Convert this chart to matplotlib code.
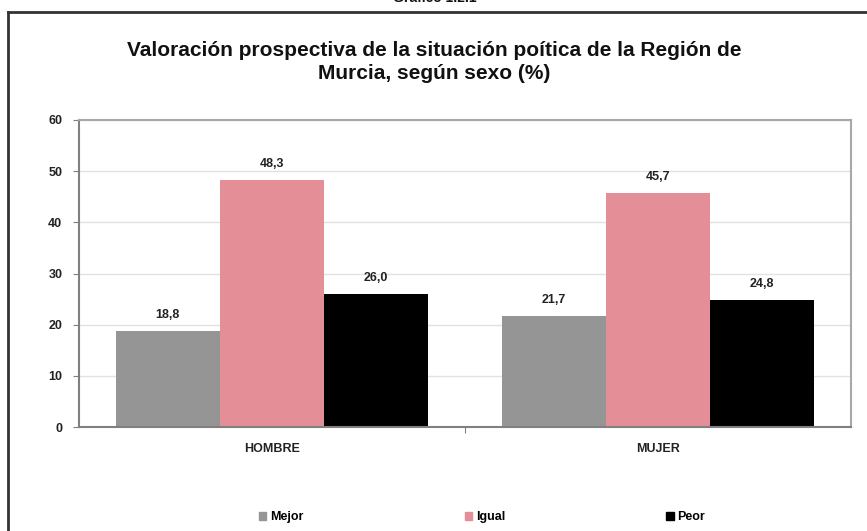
import matplotlib

matplotlib.use("Agg")
import matplotlib.pyplot as plt
import numpy as np
from matplotlib.lines import Line2D
from matplotlib.patches import Patch

plt.rcParams["font.family"] = ["Liberation Sans", "DejaVu Sans"]
plt.rcParams["font.weight"] = "bold"

caption = "Gráfico 1.2.1"
title = "Valoración prospectiva de la situación poítica de la Región de\nMurcia, según sexo (%)"
groups = ["HOMBRE", "MUJER"]
series = ["Mejor", "Igual", "Peor"]
mejor = [18.8, 21.7]
igual = [48.3, 45.7]
peor = [26.0, 24.8]
yticks = [0, 10, 20, 30, 40, 50, 60]

colors = ["#959595", "#e48e97", "#000000"]

fig = plt.figure(figsize=(8.67, 5.31), dpi=100)
ax = fig.add_axes([79 / 867, 1 - 427 / 531, (851 - 79) / 867, (427 - 120) / 531])

x = np.arange(len(groups))
width = 0.27
for i, (name, vals) in enumerate(zip(series, [mejor, igual, peor])):
    pos = x + (i - 1) * width
    ax.bar(pos, vals, width, color=colors[i], label=name, zorder=2)
    for px, v in zip(pos, vals):
        ax.text(px, v + 2.0, f"{v:.1f}".replace(".", ","), ha="center", va="bottom",
                fontsize=9, fontweight="bold", color="#222222")

ax.set_xlim(-0.5, 1.5)
ax.set_ylim(0, 60)
ax.set_yticks(yticks)
ax.set_yticklabels([str(t) for t in yticks], fontsize=9, fontweight="bold", color="#222222")
ax.set_xticks([0.5])
ax.set_xticklabels([""])
ax.tick_params(axis="x", length=4, color="#808080", direction="out")
ax.tick_params(axis="y", length=4, color="#808080", direction="out", pad=8)
for gx, g in zip(x, groups):
    ax.text(gx, -3.2, g, ha="center", va="top", fontsize=9, fontweight="bold", color="#222222")

ax.yaxis.grid(True, color="#e2e2e2", linewidth=1.0, zorder=0)
ax.set_axisbelow(True)
for side in ["top", "right"]:
    ax.spines[side].set_color("#a8a8a8")
    ax.spines[side].set_linewidth(1.5)
for side in ["left", "bottom"]:
    ax.spines[side].set_color("#808080")
    ax.spines[side].set_linewidth(1.5)

fig.text(434 / 867, 1 - 62 / 531, title, ha="center", va="center", fontsize=15,
         fontweight="bold", color="#111111", linespacing=1.3)
fig.text(435 / 867, 1 + 2 / 531, caption, ha="center", va="center", fontsize=10,
         fontweight="bold", color="#111111")

# outer frame: top and left edges
fig.add_artist(Line2D([8 / 867, 1.0], [1 - 12 / 531] * 2, transform=fig.transFigure,
                      color="#333333", linewidth=2))
fig.add_artist(Line2D([8 / 867] * 2, [0, 1 - 12 / 531], transform=fig.transFigure,
                      color="#333333", linewidth=2))

handles = [Patch(color=c, label=s) for c, s in zip(colors, series)]
fig.legend(handles=handles, loc="center", bbox_to_anchor=(482 / 867, 1 - 517 / 531),
           ncol=3, frameon=False, fontsize=9, handlelength=0.6, handleheight=0.6,
           handletextpad=0.3, columnspacing=12.9)

fig.savefig("out.png", dpi=100)
